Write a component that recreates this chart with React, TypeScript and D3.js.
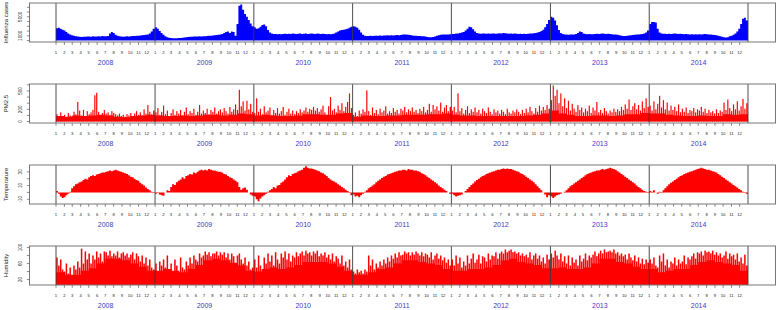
import React from 'react';
import * as d3 from 'd3';

// ---------------- data ----------------
const years = [2008, 2009, 2010, 2011, 2012, 2013, 2014];
const monthLabels = ['1', '2', '3', '4', '5', '6', '7', '8', '9', '10', '11', '12'];

// weekly influenza cases, 52 weeks per year
const fluWeekly = [
  2600, 2700, 2500, 2300, 2100, 1800, 1500, 1300, 1100, 1000, 900, 850, 800, 750, 800, 800, 850, 850, 800, 900, 850, 850, 900, 850, 950, 900, 900, 950, 1500, 1800, 1600, 1200, 1000, 900, 850, 800, 850, 900, 850, 900, 950, 950, 1000, 1000, 1050, 1100, 1150, 1200, 1300, 1500, 1900, 2500,
  2800, 2500, 2000, 1600, 1200, 900, 700, 600, 550, 500, 500, 500, 550, 550, 600, 650, 700, 750, 800, 800, 850, 850, 850, 900, 850, 900, 900, 950, 1000, 1000, 1050, 1100, 1150, 1200, 1300, 1400, 1600, 1800, 1900, 1600, 1900, 1800, 1000, 3500, 7300, 7600, 6500, 5600, 5000, 4300, 3600, 3000,
  2800, 2500, 2600, 2900, 3300, 3400, 3000, 2200, 1700, 1500, 1400, 1400, 1350, 1400, 1350, 1400, 1450, 1400, 1450, 1400, 1500, 1450, 1400, 1450, 1500, 1400, 1450, 1500, 1400, 1450, 1500, 1450, 1400, 1500, 1450, 1400, 1450, 1400, 1350, 1400, 1350, 1400, 1500, 1700, 1900, 2100, 2200, 2300, 2400, 2500, 2700, 2900,
  3000, 2900, 2700, 2300, 1700, 1200, 1000, 950, 950, 1000, 950, 1000, 1000, 1000, 1050, 1000, 1050, 1050, 1100, 1050, 1100, 1050, 1100, 1150, 1100, 1150, 1300, 1250, 1300, 1200, 1150, 1050, 1000, 1000, 950, 950, 900, 900, 850, 750, 700, 700, 750, 850, 1000, 1100, 1200, 1300, 1300, 1250, 1300, 1350,
  1400, 1400, 1500, 1500, 1600, 1700, 1800, 2100, 2500, 2900, 2800, 2400, 1900, 1600, 1500, 1450, 1500, 1500, 1450, 1500, 1450, 1500, 1500, 1450, 1500, 1550, 1500, 1600, 1550, 1500, 1450, 1500, 1450, 1500, 1450, 1400, 1450, 1400, 1450, 1400, 1450, 1500, 1500, 1550, 1600, 1700, 1800, 2000, 2300, 2800, 3500, 4300,
  5000, 4800, 4200, 3200, 2200, 1600, 1400, 1300, 1250, 1200, 1250, 1300, 1300, 1400, 1600, 1900, 1800, 1500, 1400, 1350, 1400, 1350, 1350, 1400, 1450, 1400, 1450, 1500, 1450, 1400, 1450, 1400, 1350, 1300, 1250, 1200, 1100, 1000, 950, 950, 1000, 1050, 1100, 1150, 1200, 1250, 1300, 1350, 1400, 1500, 1700, 2100,
  3500, 3900, 3900, 3800, 2500, 1700, 1500, 1450, 1450, 1400, 1450, 1400, 1450, 1500, 1450, 1400, 1450, 1400, 1350, 1400, 1350, 1300, 1350, 1300, 1350, 1300, 1350, 1300, 1350, 1400, 1350, 1300, 1250, 1200, 1150, 1100, 1000, 900, 800, 700, 650, 700, 900, 1000, 1200, 1500, 1900, 2500, 3500, 4600, 4800, 4200,
];

// weekly PM2.5 peaks
const pmWeekly = [
  120, 90, 150, 80, 110, 70, 140, 100, 90, 160, 120, 320, 180, 100, 190, 90, 170, 120, 150, 190, 430, 470, 160, 100, 140, 190, 130, 150, 110, 170, 140, 120, 100, 130, 90, 110, 80, 120, 100, 140, 90, 130, 170, 110, 150, 100, 200, 130, 270, 160, 120, 180,
  150, 220, 110, 160, 260, 120, 180, 90, 140, 200, 110, 170, 130, 190, 100, 160, 230, 120, 170, 140, 210, 110, 160, 270, 130, 180, 140, 210, 120, 190, 160, 230, 130, 170, 200, 150, 220, 170, 130, 240, 160, 200, 280, 190, 520, 250, 330, 180, 340, 200, 290, 160,
  140, 380, 160, 210, 120, 250, 150, 180, 230, 110, 190, 140, 220, 130, 170, 240, 110, 160, 210, 130, 180, 120, 170, 140, 200, 150, 180, 230, 160, 210, 190, 240, 180, 220, 160, 200, 260, 150, 40, 250, 400, 180, 210, 150, 260, 190, 300, 170, 240, 320, 460, 220,
  110, 150, 90, 180, 130, 200, 160, 510, 170, 110, 230, 140, 190, 120, 210, 150, 180, 250, 130, 170, 140, 220, 160, 190, 130, 210, 180, 240, 150, 200, 170, 230, 160, 190, 140, 210, 170, 240, 150, 190, 290, 160, 270, 200, 250, 180, 310, 160, 230, 270, 170, 240,
  180, 240, 150, 460, 170, 220, 130, 190, 250, 140, 200, 160, 230, 150, 190, 130, 210, 170, 140, 230, 160, 120, 200, 150, 180, 130, 190, 160, 120, 210, 150, 130, 180, 150, 200, 160, 120, 190, 140, 210, 150, 240, 170, 130, 220, 160, 260, 180, 240, 190, 270, 210,
  350, 590, 420, 520, 300, 460, 250, 380, 220, 340, 180, 290, 210, 160, 270, 190, 230, 150, 210, 170, 260, 140, 230, 180, 320, 150, 190, 140, 220, 170, 130, 180, 150, 210, 160, 200, 170, 240, 190, 280, 210, 360, 190, 250, 300, 200, 270, 180, 330, 220, 380, 240,
  260, 180, 330, 200, 290, 420, 230, 350, 200, 310, 180, 260, 190, 240, 170, 280, 150, 210, 160, 230, 140, 190, 170, 220, 150, 200, 180, 240, 160, 210, 140, 190, 150, 170, 130, 200, 140, 180, 160, 310, 190, 360, 220, 170, 280, 200, 330, 180, 250, 370, 210, 300,
];
// monthly PM2.5 base level
const pmMonthly = [
  90, 80, 100, 90, 100, 110, 100, 80, 70, 90, 100, 110,
  100, 90, 90, 100, 90, 100, 110, 110, 100, 110, 130, 120,
  100, 110, 100, 90, 90, 100, 120, 120, 110, 110, 130, 140,
  80, 100, 90, 90, 100, 100, 110, 110, 110, 120, 120, 130,
  110, 100, 100, 90, 90, 90, 90, 90, 90, 100, 110, 130,
  180, 130, 110, 90, 90, 100, 100, 90, 100, 120, 120, 140,
  130, 130, 110, 100, 90, 90, 100, 90, 90, 120, 110, 120,
];

// weekly temperature
const tempWeekly = [
  2, -2, -6, -8, -7, -4, -2, 1, 6, 9, 12, 13, 15, 16, 18, 20, 19, 22, 24, 25, 24, 26, 27, 28, 29, 29, 30, 31, 32, 31, 32, 33, 32, 31, 30, 29, 28, 27, 25, 23, 22, 20, 18, 17, 14, 12, 10, 7, 5, 3, 1, -1,
  -2, -1, -3, -4, -5, 0, 3, 2, 8, 12, 11, 15, 17, 19, 22, 20, 24, 25, 27, 26, 29, 28, 30, 32, 33, 32, 33, 32, 34, 33, 32, 32, 31, 30, 30, 29, 27, 26, 24, 22, 21, 19, 17, 15, 8, 4, 6, 7, 4, 0, -3, -5,
  -6, -10, -13, -9, -6, -4, -2, 1, 3, 5, 8, 6, 10, 11, 14, 16, 19, 22, 25, 24, 27, 28, 29, 31, 32, 33, 36, 38, 36, 35, 35, 34, 33, 32, 31, 29, 28, 26, 24, 21, 19, 17, 16, 14, 12, 10, 8, 6, 4, 2, -1, -4,
  -3, -6, -5, -7, -4, -2, 1, 3, 6, 8, 10, 12, 15, 17, 19, 21, 23, 24, 26, 27, 28, 29, 30, 31, 32, 32, 33, 33, 32, 34, 33, 33, 32, 32, 31, 30, 28, 27, 25, 23, 21, 19, 17, 15, 13, 10, 8, 6, 4, 2, 0, -2,
  -2, -4, -6, -5, -4, -3, 0, 2, 5, 8, 11, 13, 16, 18, 20, 22, 24, 25, 27, 28, 29, 30, 31, 32, 33, 33, 34, 35, 34, 35, 34, 34, 33, 32, 31, 30, 28, 27, 25, 23, 21, 19, 17, 15, 12, 9, 6, 3, 0, -3, -7, -4,
  -6, -8, -6, -4, -3, -2, 0, 1, 3, 6, 9, 11, 13, 15, 17, 19, 21, 23, 25, 27, 28, 29, 30, 31, 32, 32, 33, 34, 33, 34, 35, 36, 35, 34, 33, 31, 29, 27, 25, 23, 21, 19, 17, 15, 13, 10, 8, 6, 4, 2, 1, -1,
  2, 1, 3, 0, -2, 1, -1, 3, 6, 9, 12, 14, 16, 18, 20, 22, 24, 25, 27, 28, 29, 30, 31, 32, 33, 34, 35, 36, 35, 34, 33, 33, 32, 31, 30, 29, 27, 25, 23, 21, 19, 17, 15, 13, 11, 9, 7, 5, 3, 1, -1, -2,
];

// weekly humidity peaks
const humWeekly = [
  75, 55, 70, 45, 40, 60, 35, 50, 30, 55, 45, 65, 50, 97, 60, 90, 70, 85, 60, 80, 70, 90, 75, 85, 65, 90, 88, 80, 92, 78, 85, 80, 90, 75, 85, 88, 80, 85, 75, 82, 88, 70, 85, 78, 65, 80, 60, 75, 55, 70, 50, 45,
  60, 40, 65, 55, 70, 50, 80, 45, 60, 40, 70, 55, 35, 75, 50, 45, 65, 55, 75, 60, 80, 70, 65, 85, 75, 80, 90, 82, 88, 78, 85, 85, 90, 80, 88, 82, 88, 75, 85, 70, 85, 78, 60, 80, 85, 70, 60, 75, 55, 65, 45, 50,
  70, 50, 80, 55, 45, 75, 60, 85, 65, 80, 55, 88, 70, 60, 85, 75, 90, 70, 85, 65, 80, 75, 88, 78, 85, 90, 80, 92, 85, 88, 80, 90, 85, 92, 78, 85, 80, 88, 75, 82, 70, 85, 65, 78, 72, 60, 80, 55, 65, 50, 70, 45,
  40, 35, 45, 38, 42, 35, 45, 40, 80, 55, 70, 45, 60, 50, 65, 55, 70, 60, 75, 65, 80, 72, 85, 75, 88, 80, 82, 90, 85, 88, 80, 88, 82, 90, 85, 80, 88, 78, 85, 82, 75, 88, 70, 80, 85, 72, 80, 68, 75, 62, 70, 55,
  70, 55, 80, 60, 75, 50, 65, 55, 80, 60, 72, 85, 62, 70, 82, 60, 78, 75, 65, 85, 70, 80, 78, 88, 72, 85, 90, 85, 95, 88, 92, 95, 88, 90, 85, 88, 80, 85, 78, 82, 75, 88, 70, 80, 85, 72, 80, 65, 75, 60, 82, 70,
  85, 75, 92, 80, 70, 85, 65, 78, 60, 80, 55, 75, 62, 70, 55, 80, 65, 72, 85, 68, 80, 75, 82, 90, 78, 85, 92, 85, 95, 88, 90, 92, 88, 95, 85, 88, 80, 85, 78, 82, 70, 85, 75, 68, 80, 65, 75, 60, 72, 58, 70, 62,
  70, 60, 75, 55, 50, 80, 65, 85, 55, 70, 50, 65, 60, 75, 55, 70, 60, 65, 80, 58, 75, 70, 78, 85, 72, 88, 85, 90, 80, 92, 88, 90, 85, 92, 82, 88, 80, 85, 75, 80, 90, 72, 85, 78, 82, 70, 85, 65, 75, 60, 82, 55,
];
// monthly humidity base level
const humMonthly = [
  38, 32, 32, 42, 48, 60, 72, 72, 68, 60, 52, 42,
  42, 46, 42, 38, 46, 56, 68, 72, 68, 62, 55, 42,
  40, 46, 50, 46, 50, 56, 64, 64, 64, 60, 52, 42,
  32, 32, 38, 46, 50, 60, 68, 68, 64, 60, 56, 46,
  42, 42, 46, 46, 50, 56, 68, 72, 64, 60, 56, 48,
  48, 50, 46, 46, 50, 60, 72, 72, 64, 60, 52, 46,
  46, 38, 42, 46, 46, 56, 64, 68, 64, 60, 56, 42,
];

const fluTicks = [0, 1000, 2000, 3000, 4000, 5000, 6000, 7000];
const fluTickLabels = ['1000', '5000'];
const pmTicks = [0, 100, 200, 300, 400, 500, 600];
const pmTickLabels = ['0', '200', '500'];
const tempTicks = [-10, 0, 10, 20, 30];
const tempTickLabels = ['-10', '10', '30'];
const humTicks = [20, 40, 60, 80, 100];
const humTickLabels = ['20', '60', '100'];

// ---------------- layout ----------------
const W = 778;
const H = 310;
const BOX_L = 29.5;
const BOX_R = 775.5;
const PH = 39;
const FONT = "'Liberation Sans', Arial, Helvetica, sans-serif";
const YEAR_COLOR = '#3b3bc4';

const x = d3
  .scaleUtc()
  .domain([new Date(Date.UTC(2008, 0, 1)), new Date(Date.UTC(2015, 0, 1))])
  .range([56, 748]);

const weekStart = (i: number) => {
  const yr = years[Math.floor(i / 52)];
  const w = i % 52;
  return new Date(Date.UTC(yr, 0, 1 + 7 * w));
};
const weekEnd = (i: number) => {
  const yr = years[Math.floor(i / 52)];
  const w = i % 52;
  return w === 51 ? new Date(Date.UTC(yr + 1, 0, 1)) : new Date(Date.UTC(yr, 0, 8 + 7 * w));
};
const monthStart = (i: number) => new Date(Date.UTC(years[Math.floor(i / 12)], i % 12, 1));

type Pt = { t: Date; v: number };
const stepPoints = (vals: number[], start: (i: number) => Date): Pt[] => {
  const pts = vals.map((v, i) => ({ t: start(i), v }));
  pts.push({ t: new Date(Date.UTC(2015, 0, 1)), v: vals[vals.length - 1] });
  return pts;
};

type Cfg = {
  title: string;
  top: number;
  domain: [number, number];
  ticks: number[];
  tickLabels: string[];
  color: string;
  area: number[];
  areaStart: (i: number) => Date;
  spikes?: number[];
  spikeWidth?: number;
  baseline: number;
};

const panels: Cfg[] = [
  { title: 'Influenza cases', top: 3, domain: [-304, 7904], ticks: fluTicks, tickLabels: fluTickLabels, color: '#0000ff', area: fluWeekly, areaStart: weekStart, baseline: 0 },
  { title: 'PM2.5', top: 84, domain: [-23.6, 613.6], ticks: pmTicks, tickLabels: pmTickLabels, color: '#ff0000', area: pmMonthly, areaStart: monthStart, spikes: pmWeekly, spikeWidth: 0.62, baseline: 0 },
  { title: 'Temperature', top: 165, domain: [-16.9, 40], ticks: tempTicks, tickLabels: tempTickLabels, color: '#ff0000', area: tempWeekly, areaStart: weekStart, baseline: 0 },
  { title: 'Humidity', top: 246, domain: [6.4, 103.6], ticks: humTicks, tickLabels: humTickLabels, color: '#ff0000', area: humMonthly, areaStart: monthStart, spikes: humWeekly, spikeWidth: 0.8, baseline: 0 },
];

function Panel({ cfg, idx }: { cfg: Cfg; idx: number }) {
  const top = cfg.top;
  const B = top + PH;
  const y = d3.scaleLinear().domain(cfg.domain).range([B, top]);
  const areaGen = d3
    .area<Pt>()
    .x((d) => x(d.t))
    .y0(() => y(cfg.baseline))
    .y1((d) => y(d.v))
    .curve(d3.curveStepAfter);
  const pts = stepPoints(cfg.area, cfg.areaStart);
  const clipId = `clip${idx}`;
  const yearLines = [...years, 2015].map((yr) => x(new Date(Date.UTC(yr, 0, 1))));
  const monthTicks: { xv: number; label: string }[] = [];
  years.forEach((yr) =>
    monthLabels.forEach((lab, m) => monthTicks.push({ xv: x(new Date(Date.UTC(yr, m, 1))), label: lab }))
  );
  const sw = cfg.spikeWidth ?? 0.6;
  return (
    <g>
      <defs>
        <clipPath id={clipId}>
          <rect x={BOX_L} y={top} width={BOX_R - BOX_L} height={PH} />
        </clipPath>
      </defs>
      <g clipPath={`url(#${clipId})`}>
        <path d={areaGen(pts) || ''} fill={cfg.color} />
        {cfg.spikes &&
          cfg.spikes.map((v, i) => {
            const x0 = x(weekStart(i));
            const x1 = x(weekEnd(i));
            const bw = x1 - x0;
            const y0 = y(cfg.baseline);
            const y1 = y(v);
            return (
              <rect
                key={i}
                x={x0 + (bw * (1 - sw)) / 2}
                width={bw * sw}
                y={Math.min(y0, y1)}
                height={Math.abs(y0 - y1)}
                fill={cfg.color}
              />
            );
          })}
      </g>
      {yearLines.map((xv, i) => (
        <line key={i} x1={xv} x2={xv} y1={top} y2={B} stroke="#3a3a3a" strokeWidth={0.9} />
      ))}
      <rect x={BOX_L} y={top} width={BOX_R - BOX_L} height={PH} fill="none" stroke="#777" strokeWidth={1} />
      {/* y axis */}
      {cfg.ticks.map((t) => (
        <line key={t} x1={BOX_L - 2.6} x2={BOX_L} y1={y(t)} y2={y(t)} stroke="#444" strokeWidth={0.6} />
      ))}
      {cfg.tickLabels.map((lab) => (
        <text
          key={lab}
          transform={`translate(20,${y(+lab)}) rotate(-90)`}
          textAnchor="middle"
          dominantBaseline="central"
          fontSize={4.6}
          fontFamily={FONT}
          fill="#222"
        >
          {lab}
        </text>
      ))}
      <text
        transform={`translate(5.5,${top + PH / 2}) rotate(-90)`}
        textAnchor="middle"
        dominantBaseline="central"
        fontSize={6}
        fontFamily={FONT}
        fill="#222"
      >
        {cfg.title}
      </text>
      {/* x axis */}
      {monthTicks.map((m, i) => (
        <g key={i}>
          <line x1={m.xv} x2={m.xv} y1={B + 0.3} y2={B + 2.8} stroke="#333" strokeWidth={0.6} />
          <text x={m.xv} y={B + 12} textAnchor="middle" fontSize={4.2} fontFamily={FONT} fill="#222">
            {m.label}
          </text>
        </g>
      ))}
      {years.map((yr) => {
        const xc = (x(new Date(Date.UTC(yr, 0, 1))) + x(new Date(Date.UTC(yr + 1, 0, 1)))) / 2;
        return (
          <text key={yr} x={xc} y={B + 23} textAnchor="middle" fontSize={7} fontFamily={FONT} fill={YEAR_COLOR}>
            {yr}
          </text>
        );
      })}
    </g>
  );
}

export default function App() {
  return (
    <svg
      width={W}
      height={H}
      viewBox={`0 0 ${W} ${H}`}
      style={{ position: 'absolute', left: 0, top: 0, background: '#fff' }}
    >
      <rect x={0} y={0} width={W} height={H} fill="#fff" />
      {panels.map((p, i) => (
        <Panel key={p.title} cfg={p} idx={i} />
      ))}
    </svg>
  );
}
